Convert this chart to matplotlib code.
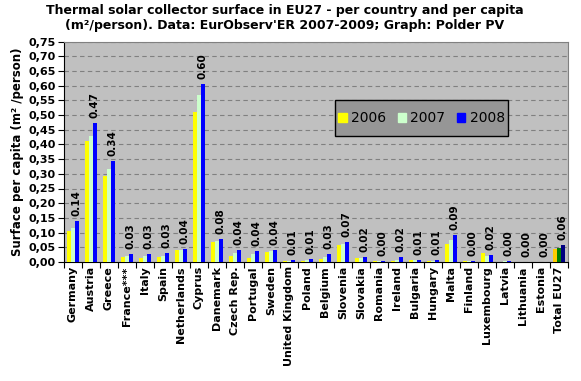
import numpy as np
import matplotlib.pyplot as plt
from matplotlib.patches import Rectangle

countries = ['Germany', 'Austria', 'Greece', 'France***', 'Italy', 'Spain', 'Netherlands',
             'Cyprus', 'Danemark', 'Czech Rep.', 'Portugal', 'Sweden', 'United Kingdom',
             'Poland', 'Belgium', 'Slovenia', 'Slovakia', 'Romania', 'Ireland', 'Bulgaria',
             'Hungary', 'Malta', 'Finland', 'Luxembourg', 'Latvia', 'Lithuania', 'Estonia',
             'Total EU27']
y2006 = [0.104, 0.410, 0.292, 0.016, 0.012, 0.016, 0.041, 0.509, 0.068, 0.020, 0.014, 0.035,
         0.002, 0.003, 0.010, 0.058, 0.014, 0.002, 0.002, 0.007, 0.002, 0.061, 0.003, 0.031,
         0.001, 0.0005, 0.0005, 0.044]
y2007 = [0.115, 0.427, 0.316, 0.020, 0.020, 0.020, 0.041, 0.567, 0.071, 0.031, 0.027, 0.038,
         0.003, 0.007, 0.017, 0.061, 0.014, 0.002, 0.006, 0.006, 0.003, 0.075, 0.003, 0.020,
         0.002, 0.0005, 0.0005, 0.048]
y2008 = [0.138, 0.472, 0.342, 0.027, 0.027, 0.029, 0.043, 0.604, 0.078, 0.041, 0.037, 0.041,
         0.007, 0.010, 0.027, 0.068, 0.017, 0.003, 0.017, 0.007, 0.007, 0.092, 0.003, 0.024,
         0.003, 0.0005, 0.0005, 0.058]
labels2008 = ['0.14', '0.47', '0.34', '0.03', '0.03', '0.03', '0.04', '0.60', '0.08', '0.04',
              '0.04', '0.04', '0.01', '0.01', '0.03', '0.07', '0.02', '0.00', '0.02', '0.01',
              '0.01', '0.09', '0.00', '0.02', '0.00', '0.00', '0.00', '0.06']

fig = plt.figure(figsize=(5.81, 3.81), dpi=100)
ax = fig.add_axes([64 / 581, 1 - 262 / 381, 504 / 581, 220.5 / 381])
ax.set_facecolor('#C0C0C0')

x = np.arange(len(countries))
w = 0.22
c06 = ['#FFFF00'] * 27 + ['#FFCC00']
c07 = ['#CCFFCC'] * 27 + ['#008000']
c08 = ['#0000FF'] * 27 + ['#000080']
ax.bar(x - w, y2006, w, color=c06, label='2006', zorder=3)
ax.bar(x, y2007, w, color=c07, label='2007', zorder=3)
b = ax.bar(x + w, y2008, w, color=c08, label='2008', zorder=3)
for rect, t in zip(b, labels2008):
    ax.text(rect.get_x() + rect.get_width() / 2, rect.get_height() + 0.018, t,
            rotation=90, ha='center', va='bottom', fontsize=7.5, fontweight='bold', zorder=4)

ax.set_xlim(-0.5, len(countries) - 0.5)
ax.set_ylim(0, 0.75)
yt = np.arange(0, 0.76, 0.05)
ax.set_yticks(yt)
ax.set_yticklabels([f'{v:.2f}'.replace('.', ',') for v in yt], fontsize=8, fontweight='bold')
ax.yaxis.grid(True, linestyle=(0, (4, 3)), color='#808080', linewidth=0.8, zorder=0)
ax.set_xticks(np.arange(len(countries) + 1) - 0.5, minor=False)
ax.set_xticklabels([])
ax.set_xticks(x, minor=True)
ax.set_xticklabels(countries, minor=True, rotation=90, fontsize=8, fontweight='bold')
ax.tick_params(axis='x', which='minor', length=0, pad=3)
ax.tick_params(axis='x', which='major', length=4, direction='out', color='black')
ax.tick_params(axis='y', length=4, direction='out', pad=2)
for s in ['top', 'right']:
    ax.spines[s].set_color('#808080')
for s in ['bottom', 'left']:
    ax.spines[s].set_color('black')

ax.set_ylabel('Surface per capita (m² /person)', fontsize=8.5, fontweight='bold', labelpad=3)

# legend box drawn separately so it can be wider than tall padding
bx0, bx1, by0, by1 = (335 - 64) / 504, (508 - 64) / 504, (262 - 136) / 220.5, (262 - 100) / 220.5
ax.add_patch(Rectangle((bx0, by0), bx1 - bx0, by1 - by0, transform=ax.transAxes,
                       facecolor='#969696', edgecolor='black', linewidth=1, zorder=5))
leg = ax.legend(ncol=3, loc='center', bbox_to_anchor=((bx0 + bx1) / 2, (by0 + by1) / 2),
                borderaxespad=0, frameon=False, fontsize=10, handlelength=0.6,
                handleheight=0.6, handletextpad=0.3, columnspacing=0.85, borderpad=0)
leg.set_zorder(6)
leg.legend_handles[0].set_color('#FFFF00')
leg.legend_handles[1].set_color('#CCFFCC')
leg.legend_handles[2].set_color('#0000FF')

fig.text(0.49, 0.99, "Thermal solar collector surface in EU27 - per country and per capita\n"
         "(m²/person). Data: EurObserv'ER 2007-2009; Graph: Polder PV",
         ha='center', va='top', fontsize=9, fontweight='bold', linespacing=1.2)

fig.savefig('out.png', dpi=100, facecolor='white')
